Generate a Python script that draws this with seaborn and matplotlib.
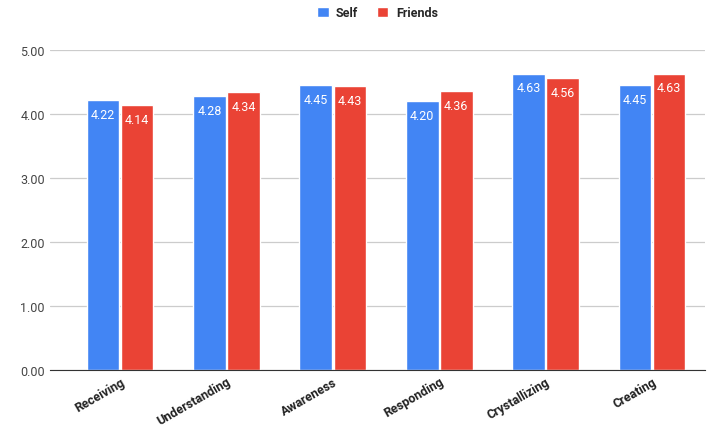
import pandas as pd
import seaborn as sns
import matplotlib.pyplot as plt

categories = ['Receiving', 'Understanding', 'Awareness', 'Responding', 'Crystallizing', 'Creating']
self_scores = [4.22, 4.28, 4.45, 4.20, 4.63, 4.45]
friends_scores = [4.14, 4.34, 4.43, 4.36, 4.56, 4.63]
yticks = [0, 1, 2, 3, 4, 5]

df = pd.DataFrame({
    'category': categories * 2,
    'score': self_scores + friends_scores,
    'who': ['Self'] * len(categories) + ['Friends'] * len(categories),
})

sns.set_style('white')
plt.rcParams['font.family'] = ['Roboto', 'DejaVu Sans']

fig = plt.figure(figsize=(7.11, 4.35), dpi=100)
ax = fig.add_axes([0.070, 0.147, 0.922, 0.736])
sns.barplot(data=df, x='category', y='score', hue='who', palette=['#4285f4', '#ea4335'],
            width=0.64, gap=0.04, ax=ax, saturation=1, legend=True)

ax.set_ylim(0, 5)
ax.set_yticks(yticks)
ax.set_yticklabels([f'{v:.2f}' for v in yticks], fontsize=9, color='#444444')
ax.yaxis.grid(True, color='#cccccc', linewidth=0.9)
ax.set_axisbelow(True)
ax.set_xlim(-0.66, 5.5)
ax.set_xlabel('')
ax.set_ylabel('')
ax.tick_params(axis='both', length=0)
ax.set_xticks(range(len(categories)))
ax.set_xticklabels(categories, rotation=30, ha='right', rotation_mode='anchor',
                   fontsize=9, fontweight='bold', color='#222222')
for side in ['top', 'right', 'left']:
    ax.spines[side].set_visible(False)
ax.spines['bottom'].set_color('#333333')

# value labels inside the top of each bar
for cont in ax.containers:
    ax.bar_label(cont, fmt='%.2f', label_type='edge', padding=-15, color='white', fontsize=9)

leg = ax.legend(loc='lower center', bbox_to_anchor=(0.5, 1.06), ncol=2, frameon=False,
                handlelength=0.9, handleheight=0.9, columnspacing=1.5, handletextpad=0.6,
                prop={'weight': 'bold', 'size': 9})

plt.savefig('out.png', dpi=100)
